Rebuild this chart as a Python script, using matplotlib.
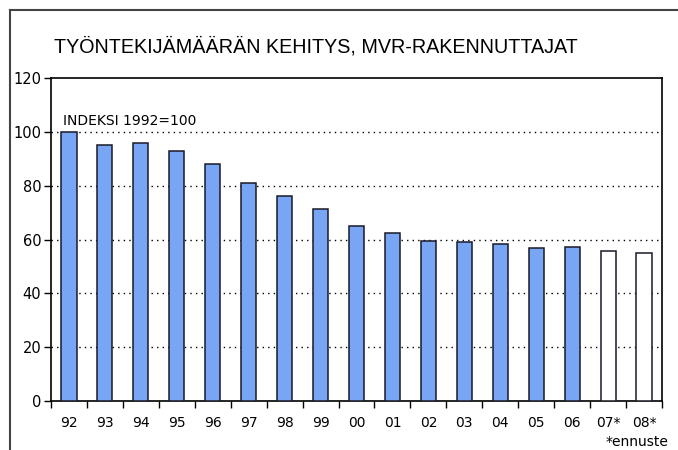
import matplotlib
matplotlib.use("Agg")
import matplotlib.pyplot as plt
from matplotlib.lines import Line2D

# Data
years = ["92", "93", "94", "95", "96", "97", "98", "99", "00", "01",
         "02", "03", "04", "05", "06", "07*", "08*"]
index_values = [100, 95, 96, 93, 88, 81, 76, 71.5, 65, 62.5,
                59.6, 58.9, 58.4, 56.7, 57.1, 55.9, 55.0]
forecast = [False] * 15 + [True, True]

title = "TYÖNTEKIJÄMÄÄRÄN KEHITYS, MVR-RAKENNUTTAJAT"
note = "INDEKSI 1992=100"
footnote = "*ennuste"

W, H = 678, 450
fig = plt.figure(figsize=(W / 100, H / 100), dpi=100)
fig.patch.set_facecolor("white")

ax = fig.add_axes([51 / W, 1 - 401 / H, (662 - 51) / W, (401 - 78) / H])

x = list(range(len(years)))
colors = ["white" if f else "#78a6f5" for f in forecast]
ax.bar(x, index_values, width=0.42, color=colors, edgecolor="#1a1a2a",
       linewidth=1.1, zorder=3)

ax.set_xlim(-0.5, len(years) - 0.5)
ax.set_ylim(0, 120)
ax.set_yticks(range(0, 121, 20))

# tick marks on category boundaries, labels centred under the bars
ax.set_xticks([i - 0.5 for i in range(len(years) + 1)])
ax.set_xticklabels([])
ax.set_xticks(x, minor=True)
ax.set_xticklabels(years, minor=True, fontsize=10)
ax.tick_params(axis="x", which="major", direction="out", length=5, width=1)
ax.tick_params(axis="x", which="minor", length=0, pad=11)
ax.tick_params(axis="y", direction="out", length=5, width=1, labelsize=10.5, pad=2)

for v in range(20, 101, 20):
    ax.axhline(v, color="black", linestyle=(0, (1, 3)), linewidth=1, zorder=1)

for s in ax.spines.values():
    s.set_color("black")
    s.set_linewidth(1.2)

ax.text(12 / 611, 104 / 120, note, transform=ax.transAxes, fontsize=10,
        va="center", ha="left")

fig.text(54 / W, 1 - 52.5 / H, title, fontsize=14.2, va="baseline", ha="left",
         family=["Liberation Sans", "DejaVu Sans"])
fig.text(668 / W, 1 - 442 / H, footnote, fontsize=10, va="center", ha="right")

# outer frame: left and top edges only
fig.add_artist(Line2D([10 / W, 10 / W], [0, 1 - 10 / H], transform=fig.transFigure,
                      color="#444444", linewidth=1.5))
fig.add_artist(Line2D([10 / W, 1], [1 - 10 / H, 1 - 10 / H], transform=fig.transFigure,
                      color="#444444", linewidth=1.5))

fig.savefig("out.png", dpi=100)
